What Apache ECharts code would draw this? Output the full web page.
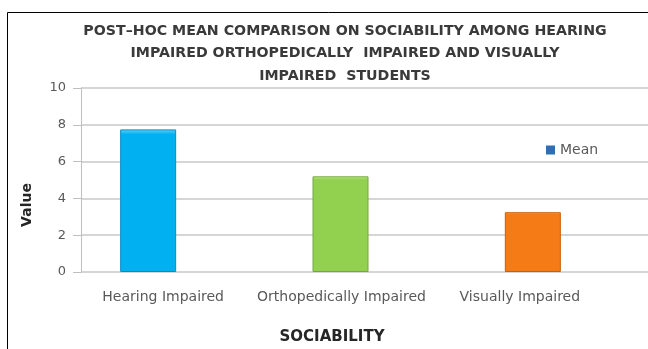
<!DOCTYPE html>
<html>
<head>
<meta charset="utf-8">
<script src="https://cdn.jsdelivr.net/npm/echarts@6/dist/echarts.min.js"></script>
<style>html,body{margin:0;padding:0;background:#fff}#c{width:648px;height:349px}</style>
</head>
<body>
<div id="c"></div>
<script>
var categories = ['Hearing Impaired', 'Orthopedically Impaired', 'Visually Impaired'];
var meanValues = [7.75, 5.2, 3.25];
var barColors = ['#00B0F0', '#92D050', '#F47B16'];
var barTops = ['#5FD4FF', '#C4EC8C', '#FFB06A'];
var barEdges = ['#0A8CC0', '#74A83E', '#C55F0C'];
var titleLines = ['POST\u2013HOC MEAN COMPARISON ON SOCIABILITY AMONG HEARING', 'IMPAIRED ORTHOPEDICALLY  IMPAIRED AND VISUALLY', 'IMPAIRED  STUDENTS'];
var seriesName = 'Mean';

var chart = echarts.init(document.getElementById('c'));
var wide = 'DejaVu Sans, sans-serif';
var gridTop = 88, gridBottom = 77;

var data = meanValues.map(function (v, i) {
  return {
    value: v,
    itemStyle: {
      color: new echarts.graphic.LinearGradient(0, 0, 0, 1, [
        {offset: 0, color: barTops[i]},
        {offset: 0.035, color: barColors[i]},
        {offset: 1, color: barColors[i]}
      ]),
      borderColor: barEdges[i],
      borderWidth: 1
    }
  };
});

chart.setOption({
  animation: false,
  backgroundColor: '#fff',
  title: {
    text: titleLines.join('\n'),
    left: 340, textAlign: 'center', top: 15,
    textStyle: {fontFamily: wide, fontSize: 14.2, fontWeight: 'bold', color: '#3a3a3a', lineHeight: 22.5}
  },
  legend: {
    data: [{name: seriesName, itemStyle: {color: '#2F6FAF'}}],
    left: 541, top: 138, itemWidth: 9, itemHeight: 9, itemGap: 4,
    icon: 'rect',
    textStyle: {fontFamily: wide, fontSize: 14, color: '#595959', padding: [0, 0, 0, 0]}
  },
  grid: [
    {left: 81, right: 0, top: gridTop, bottom: gridBottom, containLabel: false},
    {left: 52, right: 19, top: gridTop, bottom: gridBottom, containLabel: false},
    {left: 74, right: 39, top: gridTop, bottom: gridBottom, containLabel: false}
  ],
  xAxis: [
    {gridIndex: 0, type: 'category', data: categories, show: false},
    {gridIndex: 1, type: 'category', data: categories, show: false},
    {gridIndex: 2, type: 'category', data: categories,
      axisLine: {show: false}, axisTick: {show: false},
      axisLabel: {interval: 0, hideOverlap: false, margin: 18, fontFamily: wide, fontSize: 14, color: '#595959'}}
  ],
  yAxis: [
    {gridIndex: 0, type: 'value', min: 0, max: 10, interval: 2,
      axisLine: {show: true, lineStyle: {color: '#bfbfbf'}},
      axisTick: {show: true, length: 8, lineStyle: {color: '#bfbfbf'}},
      axisLabel: {margin: 15, fontFamily: wide, fontSize: 13, color: '#595959'},
      splitLine: {lineStyle: {color: '#c8c8c8', width: 1.5}}},
    {gridIndex: 1, type: 'value', min: 0, max: 10, interval: 2, show: false,
      splitLine: {show: false}},
    {gridIndex: 2, type: 'value', min: 0, max: 10, interval: 2, show: false,
      splitLine: {show: false}}
  ],
  series: [{
    name: seriesName, type: 'bar', xAxisIndex: 1, yAxisIndex: 1,
    barWidth: 56, data: data
  }],
  graphic: [
    {type: 'rect', shape: {x: 7.5, y: 12.5, width: 700, height: 400}, style: {fill: null, stroke: '#000', lineWidth: 1}, silent: true, z: 100},
    {type: 'text', x: 27, y: 205, rotation: Math.PI / 2, style: {text: 'Value', fontFamily: wide, fontSize: 14, fontWeight: 'bold', fill: '#262626', textAlign: 'center', textVerticalAlign: 'middle'}},
    {type: 'text', x: 332, y: 337, style: {text: 'SOCIABILITY', fontFamily: wide, fontSize: 15, fontWeight: 'bold', fill: '#262626', textAlign: 'center', textVerticalAlign: 'middle'}}
  ]
});
</script>
</body>
</html>
